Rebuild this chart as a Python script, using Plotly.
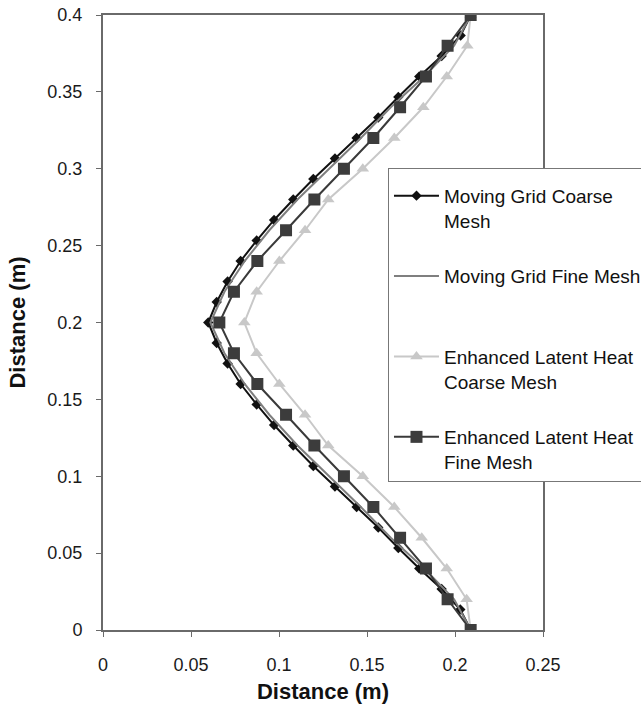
import plotly.graph_objects as go

# ---- data ----
y_mg_coarse = [0, 0.0133, 0.0267, 0.04, 0.0533, 0.0667, 0.08, 0.0933, 0.1067, 0.12,
               0.1333, 0.1467, 0.16, 0.1733, 0.1867, 0.2, 0.2133, 0.2267, 0.24, 0.2533,
               0.2667, 0.28, 0.2933, 0.3067, 0.32, 0.3333, 0.3467, 0.36, 0.3733, 0.3867, 0.4]
x_mg_coarse = [0.209, 0.2030, 0.1924, 0.1797, 0.1678, 0.1564, 0.1441, 0.1318, 0.1195, 0.1081,
               0.0972, 0.0873, 0.0782, 0.0708, 0.0646, 0.0598, 0.0646, 0.0708, 0.0782, 0.0873,
               0.0972, 0.1081, 0.1195, 0.1318, 0.1441, 0.1564, 0.1678, 0.1797, 0.1924, 0.2032, 0.209]

y_fine = [0, 0.02, 0.04, 0.06, 0.08, 0.10, 0.12, 0.14, 0.16, 0.18, 0.20,
          0.22, 0.24, 0.26, 0.28, 0.30, 0.32, 0.34, 0.36, 0.38, 0.40]
x_mg_fine = [0.209, 0.1995, 0.1825, 0.1635, 0.1465, 0.1285, 0.1105, 0.0945, 0.0805, 0.0690, 0.0610,
             0.0690, 0.0805, 0.0945, 0.1105, 0.1285, 0.1465, 0.1635, 0.1825, 0.1995, 0.209]

y_elh = [0, 0.02, 0.04, 0.06, 0.08, 0.10, 0.12, 0.14, 0.16, 0.18, 0.20,
         0.22, 0.24, 0.26, 0.28, 0.30, 0.32, 0.34, 0.36, 0.38, 0.40]
x_elh_coarse = [0.2089, 0.2066, 0.1953, 0.1811, 0.1655, 0.1476, 0.1280, 0.1148, 0.1002, 0.0873, 0.0803,
                0.0873, 0.1002, 0.1148, 0.1280, 0.1476, 0.1655, 0.1820, 0.1953, 0.2070, 0.2089]
x_elh_fine = [0.2089, 0.1958, 0.1835, 0.1688, 0.1536, 0.1369, 0.1201, 0.1040, 0.0877, 0.0744, 0.0661,
              0.0744, 0.0877, 0.1040, 0.1201, 0.1369, 0.1536, 0.1688, 0.1835, 0.1958, 0.2089]

names = ["Moving Grid Coarse<br>Mesh",
         "Moving Grid Fine Mesh<br> ",
         "Enhanced Latent Heat<br>Coarse Mesh",
         "Enhanced Latent Heat<br>Fine Mesh"]

x_ticks = [0, 0.05, 0.1, 0.15, 0.2, 0.25]
x_tick_text = ["0", "0.05", "0.1", "0.15", "0.2", "0.25"]
y_ticks = [0, 0.05, 0.1, 0.15, 0.2, 0.25, 0.3, 0.35, 0.4]
y_tick_text = ["0", "0.05", "0.1", "0.15", "0.2", "0.25", "0.3", "0.35", "0.4"]

FONT = "Liberation Sans, Arial, sans-serif"

fig = go.Figure()
fig.add_trace(go.Scatter(x=x_mg_coarse, y=y_mg_coarse, name=names[0], legendgroup="a",
                         mode="lines+markers",
                         line=dict(color="#111111", width=2),
                         marker=dict(symbol="diamond", size=8, color="#111111")))
fig.add_trace(go.Scatter(x=x_mg_fine, y=y_fine, name=names[1], legendgroup="b",
                         mode="lines",
                         line=dict(color="#7f7f7f", width=2)))
fig.add_trace(go.Scatter(x=x_elh_coarse, y=y_elh, name=names[2], legendgroup="c",
                         mode="lines+markers",
                         line=dict(color="#c8c8c8", width=2),
                         marker=dict(symbol="triangle-up", size=11, color="#c8c8c8")))
fig.add_trace(go.Scatter(x=x_elh_fine, y=y_elh, name=names[3], legendgroup="d",
                         mode="lines+markers",
                         line=dict(color="#3a3a3a", width=2),
                         marker=dict(symbol="square", size=12, color="#3c3c3c")))

fig.update_layout(
    width=641, height=708,
    margin=dict(l=103, r=98, t=15, b=78, autoexpand=False),
    paper_bgcolor="white", plot_bgcolor="white",
    font=dict(family=FONT, color="#1a1a1a"),
    showlegend=True,
    legend=dict(x=0.6477, y=0.7512, xanchor="left", yanchor="top",
                bgcolor="white", bordercolor="#777777", borderwidth=1,
                font=dict(size=19, family=FONT, color="#111111"),
                traceorder="grouped", tracegroupgap=28, valign="top",
                itemwidth=45,
                title=dict(text=" ", font=dict(size=6))),
    xaxis=dict(range=[0, 0.25], tickvals=x_ticks, ticktext=x_tick_text,
               showgrid=False, zeroline=False, automargin=False,
               showline=True, linecolor="#6a6a6a", linewidth=2, mirror=True,
               ticks="outside", ticklen=5, tickcolor="#6a6a6a", tickwidth=1,
               tickfont=dict(size=18, family=FONT, color="#1a1a1a"),
               ticklabelstandoff=12,
               title=dict(text="<b>Distance (m)</b>", font=dict(size=22, family=FONT, color="#111111"),
                          standoff=10)),
    yaxis=dict(range=[0, 0.4], tickvals=y_ticks, ticktext=y_tick_text,
               showgrid=False, zeroline=False, automargin=False,
               showline=True, linecolor="#6a6a6a", linewidth=2, mirror=True,
               ticks="outside", ticklen=5, tickcolor="#6a6a6a", tickwidth=1,
               tickfont=dict(size=18, family=FONT, color="#1a1a1a"),
               ticklabelstandoff=10,
               title=dict(text="<b>Distance (m)</b>", font=dict(size=22, family=FONT, color="#111111"),
                          standoff=16)),
)

fig.write_html("out.html",
               config={"displayModeBar": False},
               post_script="document.body.style.margin='0';document.body.style.overflow='hidden';")
